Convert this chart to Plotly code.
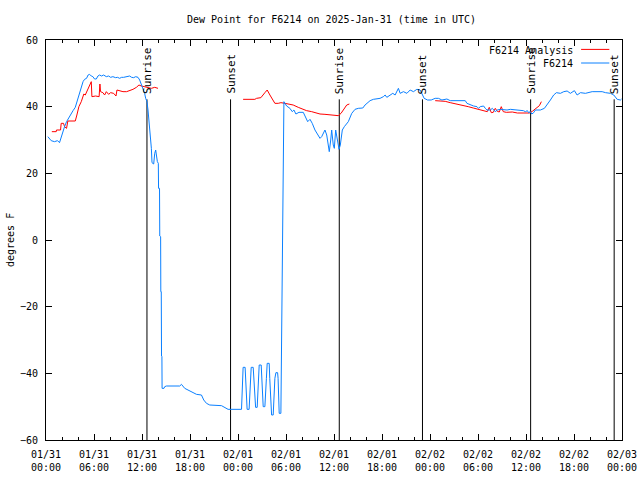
import pandas as pd
import plotly.graph_objects as go

START = "2025-01-31 00:00"

# ---- F6214 observed dew point (hours since 01/31 00:00 UTC, deg F) ----
obs_hours = [
    0.23, 0.65, 1.06, 1.44, 1.69, 1.90, 2.13, 2.32, 2.57, 2.73, 2.94, 3.16, 3.38, 3.66, 3.82, 3.98,
    4.19, 4.41, 4.63, 4.82, 5.07, 5.26, 5.45, 5.66, 5.86, 6.07, 6.29, 6.49, 6.70, 6.95, 7.20, 7.54,
    7.83, 8.08, 8.36, 8.70, 8.95, 9.20, 9.45, 9.70, 9.95, 10.2, 10.46, 10.7, 10.96, 11.21, 11.5,
    11.71, 11.90, 12.12, 12.33, 12.46, 12.62, 12.75, 12.96, 13.17, 13.25, 13.46, 13.59, 13.71,
    13.92, 14.04, 14.07, 14.19, 14.22, 14.33, 14.35, 14.41, 14.44, 14.49, 14.51, 14.75, 14.84,
    15.05, 16.72, 16.93, 17.34, 17.76, 18.18, 18.81, 19.43, 19.72, 20.06, 20.47, 21.94, 22.35,
    22.76, 24.44, 24.51, 24.57, 24.64, 24.89, 24.96, 25.04, 25.14, 25.39, 25.47, 25.56, 25.65,
    25.90, 25.97, 26.10, 26.20, 26.40, 26.47, 26.56, 26.65, 26.90, 26.97, 27.06, 27.15, 27.36,
    27.44, 27.55, 27.65, 27.90, 27.97, 28.10, 28.20, 28.40, 28.49, 28.61, 28.74, 28.95, 29.01,
    29.08, 29.15, 29.36, 29.45, 29.58, 29.74, 30.08, 30.49, 30.78, 30.99, 31.24, 31.62, 32.16,
    32.46, 32.71, 33.0, 33.28, 33.62, 33.96, 34.25, 34.46, 34.66, 34.87, 35.09, 35.29, 35.41,
    35.59, 35.71, 35.91, 36.04, 36.21, 36.47, 36.63, 36.79, 37.04, 37.29, 37.57, 37.79, 38.22,
    38.63, 39.04, 39.6, 39.88, 40.17, 40.51, 40.92, 41.32, 41.76, 42.17, 42.39, 42.6, 43.01,
    43.35, 43.64, 44.05, 44.27, 44.68, 45.11, 45.52, 45.93, 46.36, 46.77, 46.98, 47.27, 47.69,
    48.15, 48.65, 49.06, 49.49, 50.11, 50.53, 51.15, 51.78, 52.41, 52.62, 53.03, 53.45, 53.87,
    54.07, 54.28, 54.7, 54.91, 55.12, 55.54, 55.79, 56.16, 56.41, 56.79, 57.2, 57.63, 58.04,
    58.67, 59.29, 59.67, 59.92, 60.17, 60.33, 60.54, 60.73, 60.96, 61.17, 61.8, 62.3, 62.64,
    63.05, 63.46, 63.8, 64.3, 64.72, 65.14, 65.55, 66.05, 66.39, 66.81, 67.43, 68.27, 68.9,
    69.52, 69.94, 70.56, 70.97, 71.4, 71.81, 71.94,
]
obs_dewpt = [
    31.0, 29.8, 29.5, 29.8, 29.2, 31.0, 32.5, 34.0, 35.5, 36.2, 37.0, 38.0, 38.8, 39.8, 41.0, 42.5,
    44.5, 46.0, 47.5, 48.2, 48.5, 49.5, 49.7, 49.2, 49.0, 48.3, 48.3, 49.2, 49.5, 49.2, 49.5, 49.0,
    49.2, 48.8, 49.0, 48.7, 48.8, 48.5, 48.8, 48.8, 49.0, 49.0, 49.2, 48.8, 48.7, 49.0, 48.8,
    48.0, 46.8, 45.5, 44.0, 42.5, 41.5, 39.0, 34.0, 27.5, 23.2, 22.8, 26.0, 27.0,
    23.5, 23.0, 15.5, 15.5, 1.2, 1.0, -15.5, -15.5, -34.8, -35.0, -44.5, -44.5, -44.0,
    -43.8, -43.8, -43.3, -44.5, -45.0, -45.7, -46.3, -46.5, -48.0, -49.0, -49.5, -49.7, -50.3,
    -50.8, -50.8, -47.5, -41.5, -38.2, -38.2, -41.5, -47.5, -50.8, -50.8, -47.5, -41.5, -38.2,
    -38.2, -41.5, -47.5, -50.2, -50.2, -47.5, -41.5, -37.5, -37.5, -41.5, -47.5, -50.0, -50.0,
    -47.5, -41.5, -37.0, -37.0, -41.5, -47.5, -52.5, -52.5, -47.5, -41.5, -39.8, -39.8, -41.5,
    -47.5, -52.0, -52.0, -27.5, 18.5, 41.5, 40.2, 39.5, 38.5, 39.0, 37.8, 38.3, 38.3,
    37.0, 35.5, 36.2, 35.0, 33.0, 31.5, 30.5, 31.0, 32.0, 33.0, 31.5, 28.5, 26.5,
    30.0, 33.0, 28.5, 27.5, 33.0, 30.0, 27.2, 28.5, 33.0, 34.0, 35.0, 35.5, 38.0,
    39.2, 39.5, 39.6, 40.5, 41.0, 41.8, 42.2, 42.3, 42.5, 43.0, 43.5, 42.8, 43.5,
    44.0, 43.5, 45.5, 44.0, 44.5, 44.0, 45.0, 44.5, 45.2, 45.0, 44.0, 42.5, 42.0,
    42.0, 42.5, 42.5, 42.0, 42.3, 41.8, 41.8, 41.8, 41.8, 41.0, 40.5, 40.2, 40.0,
    39.5, 40.0, 40.2, 39.5, 39.0, 39.0, 39.5, 38.5, 39.0, 39.2, 39.0, 39.0, 39.2,
    39.0, 39.0, 38.8, 38.5, 38.8, 38.2, 38.5, 37.8, 38.2, 39.0, 39.0, 39.5, 40.5,
    42.0, 43.5, 44.2, 44.0, 44.5, 44.7, 44.0, 44.8, 43.5, 44.2, 44.0, 44.5, 44.5,
    44.5, 44.2, 44.0, 43.5, 42.2, 42.0, 42.3,
]

# ---- F6214 Analysis (three runs, gaps between) ----
ana1_hours = [0.73, 1.28, 1.31, 1.82, 1.90, 2.19, 2.32, 2.57, 2.73, 3.66, 3.86, 4.11, 4.41, 4.73,
              4.91, 5.11, 5.32, 5.53, 5.66, 5.74, 6.20, 6.64, 6.74, 6.82, 7.11, 7.33, 7.54, 7.83,
              8.08, 8.45, 8.75, 8.87, 9.20, 9.62, 10.08, 10.46, 10.87, 11.30, 11.62, 11.92, 12.33,
              12.75, 13.17, 13.59, 14.0]
ana1_dewpt = [32.5, 32.5, 33.0, 33.0, 35.0, 35.0, 34.0, 33.5, 35.7, 35.7, 37.5, 40.0, 41.5, 43.8,
              43.5, 44.5, 45.8, 46.5, 47.5, 43.0, 43.2, 43.0, 46.8, 44.5, 44.2, 43.5, 44.5, 43.7,
              44.2, 44.0, 43.2, 45.0, 44.8, 44.5, 44.5, 44.8, 45.2, 45.8, 46.5, 46.2, 46.0,
              45.8, 45.5, 45.8, 45.5]
ana2_hours = [24.64, 26.11, 26.32, 26.86, 27.36, 27.65, 27.99, 28.27, 28.61, 29.03, 29.36, 29.87,
              30.49, 30.90, 31.53, 32.16, 32.58, 33.21, 33.62, 34.25, 34.87, 35.29, 36.13, 36.54,
              36.88, 37.17, 37.59, 37.92]
ana2_dewpt = [42.2, 42.2, 42.5, 42.7, 44.2, 45.0, 43.5, 42.2, 41.0, 41.0, 41.2, 41.0,
              40.8, 40.5, 39.8, 39.2, 38.8, 38.5, 38.2, 37.8, 37.7, 37.6, 37.4, 37.3,
              38.0, 39.0, 40.5, 40.8]
ana3_hours = [48.65, 49.9, 50.53, 51.4, 52.16, 52.78, 53.41, 54.03, 54.66, 55.16, 55.41, 55.66,
              55.91, 56.16, 56.41, 56.66, 56.91, 57.16, 57.54, 58.29, 58.92, 59.79, 60.42, 60.79,
              61.3, 61.67, 61.92]
ana3_dewpt = [41.8, 41.6, 41.2, 40.8, 40.3, 40.0, 39.6, 39.2, 38.8, 38.5, 39.8, 38.2,
              38.3, 39.5, 38.6, 38.4, 40.0, 38.5, 38.3, 38.4, 38.1, 38.1, 38.1, 38.6,
              39.5, 40.3, 41.5]

# ---- sun events (hours since 01/31 00:00 UTC) ----
event_hours = [12.62, 23.07, 36.66, 47.06, 60.58, 71.02]
event_names = ["Sunrise", "Sunset", "Sunrise", "Sunset", "Sunrise", "Sunset"]

base = pd.Timestamp(START)
def to_time(hours):
    return [base + pd.Timedelta(hours=h) for h in hours]

ana_x, ana_y = [], []
for hs, vs in [(ana1_hours, ana1_dewpt), (ana2_hours, ana2_dewpt), (ana3_hours, ana3_dewpt)]:
    ana_x += to_time(hs) + [None]
    ana_y += list(vs) + [None]

FONT = "DejaVu Sans Mono"
FS = 10
RED = "#ff0000"
BLUE = "#0a80ff"

fig = go.Figure()
for t in to_time(event_hours):
    fig.add_trace(go.Scatter(x=[t, t], y=[-60, 42.2], mode="lines",
                             line=dict(color="black", width=1), showlegend=False,
                             hoverinfo="skip"))
fig.add_trace(go.Scatter(x=ana_x, y=ana_y, mode="lines", name="F6214 Analysis",
                         line=dict(color=RED, width=1), connectgaps=False, showlegend=False))
fig.add_trace(go.Scatter(x=to_time(obs_hours), y=obs_dewpt, mode="lines", name="F6214",
                         line=dict(color=BLUE, width=1), showlegend=False))

for t, name in zip(to_time(event_hours), event_names):
    fig.add_annotation(x=t, y=43.2, xref="x", yref="y", text=name, textangle=-90,
                       showarrow=False, xanchor="center", yanchor="bottom",
                       font=dict(family=FONT, size=11, color="black"))

# legend (gnuplot style: text then sample line)
legend_items = [("F6214 Analysis", RED, 0.975, 0.9765), ("F6214", BLUE, 0.9415, 0.9425)]
for label, col, ty, ly in legend_items:
    fig.add_annotation(x=0.918, y=ty, xref="paper", yref="paper", text=label, showarrow=False,
                       xanchor="right", yanchor="middle",
                       font=dict(family=FONT, size=FS, color="black"))
    fig.add_shape(type="line", xref="paper", yref="paper", x0=0.929, x1=0.978, y0=ly, y1=ly,
                  line=dict(color=col, width=1))

fig.add_annotation(x=-0.0625, y=0.5, xref="paper", yref="paper", text="degrees F",
                   textangle=-90, showarrow=False, xanchor="center", yanchor="middle",
                   font=dict(family=FONT, size=FS, color="black"))

fig.update_layout(
    width=640, height=480,
    margin=dict(l=46, r=18, t=40, b=40, autoexpand=False),
    paper_bgcolor="white", plot_bgcolor="white",
    title=dict(text="Dew Point for F6214 on 2025-Jan-31 (time in UTC)", x=0.518, xanchor="center",
               y=1 - 19 / 480, yanchor="middle",
               font=dict(family=FONT, size=FS, color="black")),
    font=dict(family=FONT, size=FS, color="black"),
    showlegend=False,
)
fig.update_xaxes(
    type="date", range=[base, base + pd.Timedelta(hours=72)], automargin=False,
    tick0=START, dtick=6 * 3600 * 1000, tickformat="%m/%d<br>%H:%M",
    ticks="inside", ticklen=6, tickcolor="black", mirror="allticks",
    showline=True, linecolor="black", linewidth=1, showgrid=False, zeroline=False,
    ticklabelstandoff=5,
    minor=dict(dtick=2 * 3600 * 1000, ticks="inside", ticklen=3, tickcolor="black", showgrid=False),
    tickfont=dict(family=FONT, size=FS, color="black"),
)
fig.update_yaxes(
    range=[-60, 60], dtick=20, ticks="inside", ticklen=6, tickcolor="black", mirror="allticks",
    showline=True, linecolor="black", linewidth=1, showgrid=False, zeroline=False, automargin=False,
    tickfont=dict(family=FONT, size=FS, color="black"), ticklabelstandoff=5,
)

fig.write_html("out.html")
